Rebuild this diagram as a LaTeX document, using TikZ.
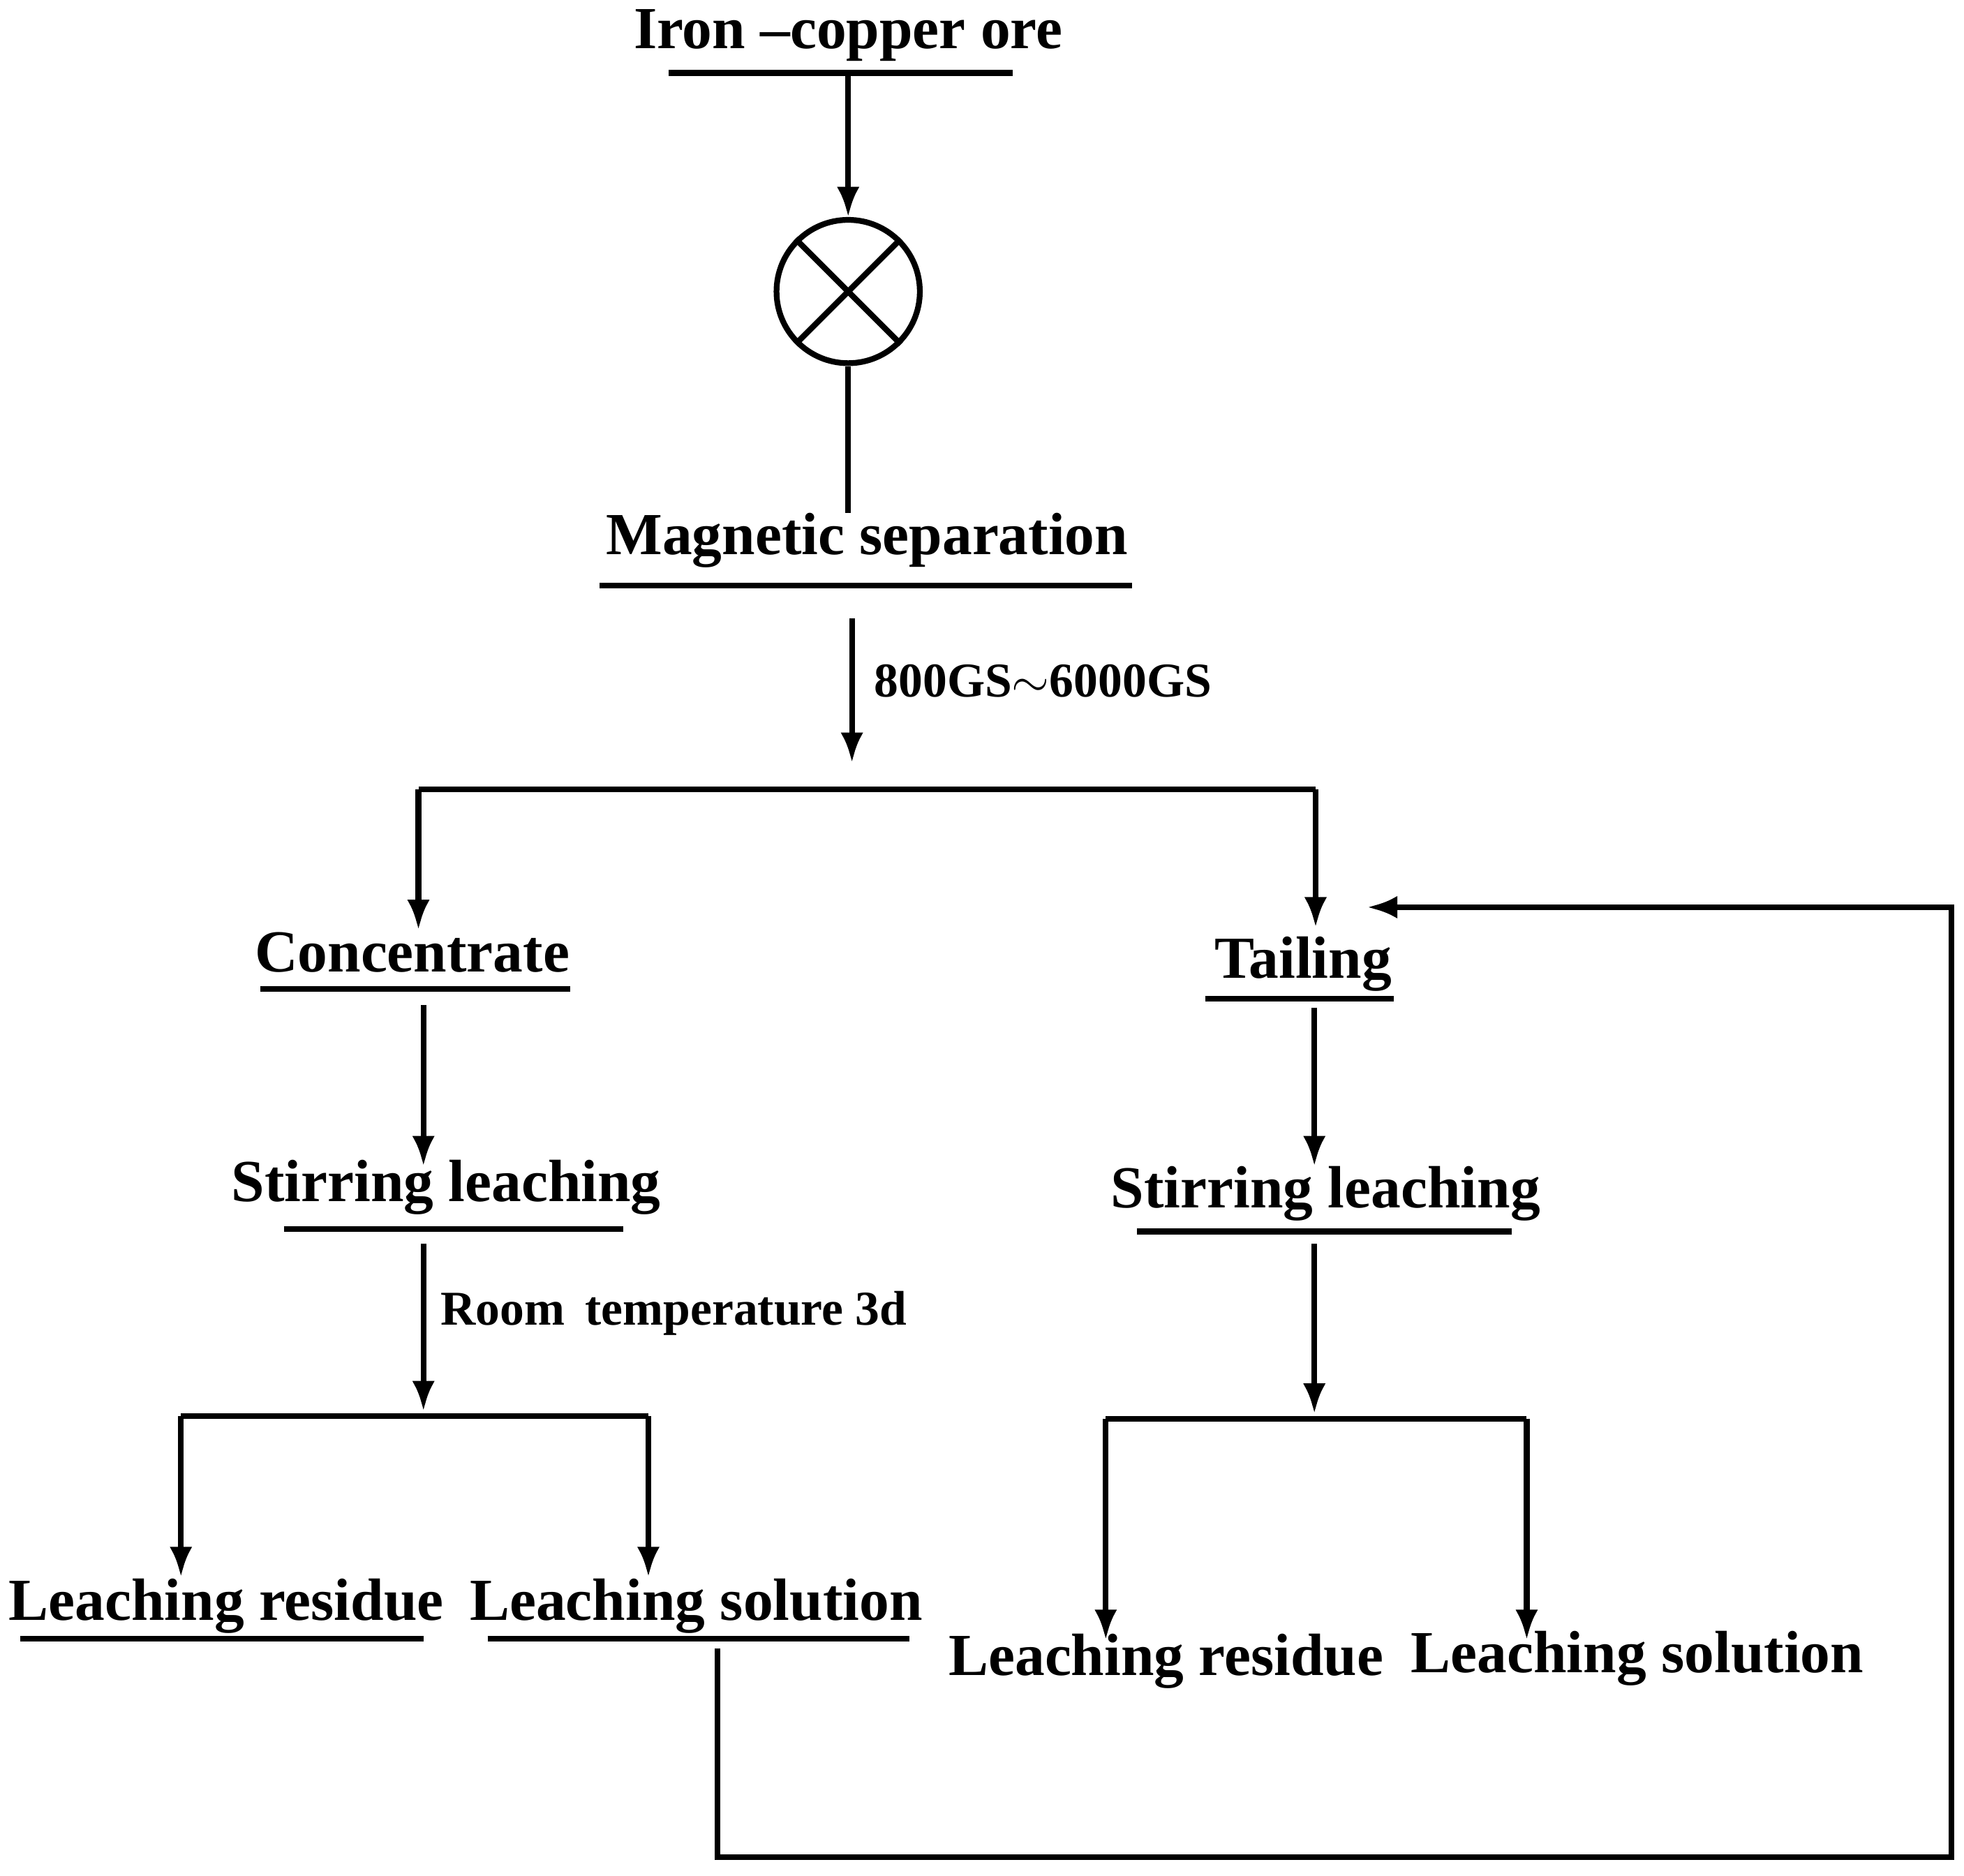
\documentclass[tikz,border=0pt]{standalone}
\usepackage{fontspec}
\setmainfont{Liberation Serif}
\usetikzlibrary{arrows.meta}
\tikzset{
  flow/.style={line width=1.3pt, -{Latex[length=2.4mm,width=1.8mm]}},
  wire/.style={line width=1.3pt},
  stage/.style={font=\bfseries\fontsize{13.5}{15}\selectfont, inner sep=0pt},
  note/.style={font=\bfseries\fontsize{11}{13}\selectfont, inner sep=0pt, anchor=west}
}
\begin{document}
\begin{tikzpicture}[x=0.01cm, y=-0.01cm]
    \useasboundingbox (0,0) rectangle (1563,1493);

    % stages
    \node [stage] (ore) at (675,28) {Iron --copper ore};
    \node [stage] (magsep) at (690,430) {Magnetic separation};
    \node [stage] (conc) at (328,758) {Concentrate};
    \node [stage] (tail) at (1037,767) {Tailing};
    \node [stage] (stirL) at (355,945) {Stirring leaching};
    \node [stage] (stirR) at (1055,950) {Stirring leaching};
    \node [stage] (resL) at (180,1278) {Leaching residue};
    \node [stage] (solL) at (554,1278) {Leaching solution};
    \node [stage] (resR) at (928,1322) {Leaching residue};
    \node [stage] (solR) at (1303,1320) {Leaching solution};
    \node [draw, circle, line width=1.3pt, minimum size=1.14cm, inner sep=0pt] (sep) at (675,232) {};
    \draw [wire] (sep.45) -- (sep.225) (sep.135) -- (sep.315);

    % underlines
    \draw [wire] (532,58) -- (806,58);
    \draw [wire] (477,466) -- (901,466);
    \draw [wire] (207,787) -- (454,787);
    \draw [wire] (959,795) -- (1109,795);
    \draw [wire] (226,978) -- (496,978);
    \draw [wire] (905,980) -- (1203,980);
    \draw [wire] (16,1304) -- (337,1304);
    \draw [wire] (388,1304) -- (724,1304);

    % helper points
    \coordinate (oreout) at (675,60);
    \coordinate (sepbot) at (675,408);
    \coordinate (magout) at (678,492);
    \coordinate (split) at (678,607);
    \coordinate (splitL) at (333,628);
    \coordinate (splitR) at (1047,628);
    \coordinate (concin) at (333,740);
    \coordinate (tailin) at (1047,738);
    \coordinate (concout) at (337,800);
    \coordinate (stirLin) at (337,928);
    \coordinate (tailout) at (1046,802);
    \coordinate (stirRin) at (1046,928);
    \coordinate (stirLout) at (337,990);
    \coordinate (forkL) at (337,1123);
    \coordinate (forkLa) at (144,1127);
    \coordinate (forkLb) at (516,1127);
    \coordinate (resLin) at (144,1255);
    \coordinate (solLin) at (516,1255);
    \coordinate (stirRout) at (1046,990);
    \coordinate (forkR) at (1046,1125);
    \coordinate (forkRa) at (880,1129);
    \coordinate (forkRb) at (1215,1129);
    \coordinate (resRin) at (880,1305);
    \coordinate (solRin) at (1215,1305);
    \coordinate (solLout) at (571,1312);
    \coordinate (back) at (1088,722);

    % connectors
    \draw [flow] (oreout) -- (sep);
    \draw [wire] (sep) -- (sepbot);
    \draw [flow] (magout) -- (split);
    \node [note] (field) at (695,542) {800GS$\sim$6000GS};
    \draw [wire] (splitL) -- (splitR);
    \draw [flow] (splitL) -- (concin);
    \draw [flow] (splitR) -- (tailin);
    \draw [flow] (concout) -- (stirLin);
    \draw [flow] (tailout) -- (stirRin);
    \draw [flow] (stirLout) -- (forkL);
    \node [note] (cond) at (350,1045) {Room\, temperature 3d};
    \draw [wire] (forkLa) -- (forkLb);
    \draw [flow] (forkLa) -- (resLin);
    \draw [flow] (forkLb) -- (solLin);
    \draw [flow] (stirRout) -- (forkR);
    \draw [wire] (forkRa) -- (forkRb);
    \draw [flow] (forkRa) -- (resRin);
    \draw [flow] (forkRb) -- (solRin);
    \draw [flow] (solLout) |- (1553,1478) |- (back);
\end{tikzpicture}
\end{document}
